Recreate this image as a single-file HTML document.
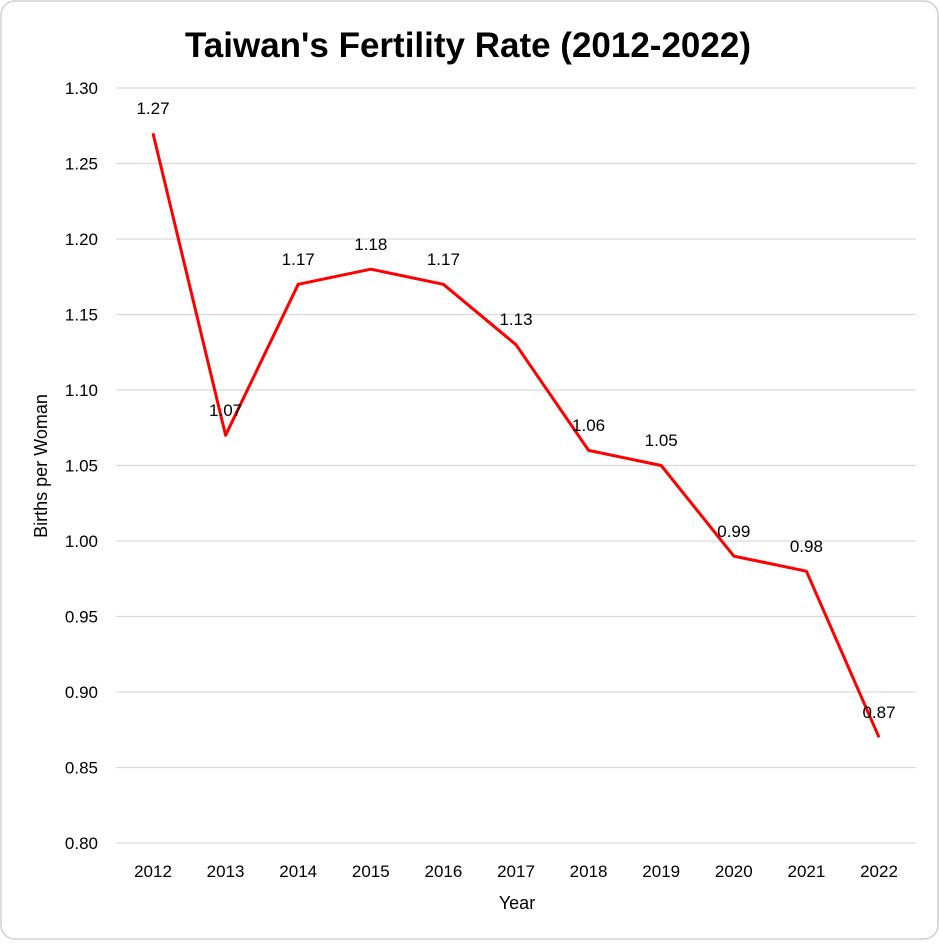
<!DOCTYPE html>
<html><head><meta charset="utf-8"><style>
body{margin:0;background:#fff;}
svg text{font-family:"Liberation Sans",sans-serif;}
</style></head><body>
<svg width="939" height="940" viewBox="0 0 939 940" xmlns="http://www.w3.org/2000/svg">
<rect x="1" y="1" width="937" height="938" rx="14" fill="#fff" stroke="#d0d0d0" stroke-width="1.5"/>
<text x="468" y="57" text-anchor="middle" font-size="35" font-weight="bold" fill="#000">Taiwan's Fertility Rate (2012-2022)</text>
<g stroke="#d9d9d9" stroke-width="1.3">
<line x1="116" x2="916" y1="88" y2="88"/><line x1="116" x2="916" y1="163.5" y2="163.5"/>
<line x1="116" x2="916" y1="239" y2="239"/><line x1="116" x2="916" y1="314.5" y2="314.5"/>
<line x1="116" x2="916" y1="390" y2="390"/><line x1="116" x2="916" y1="465.5" y2="465.5"/>
<line x1="116" x2="916" y1="541" y2="541"/><line x1="116" x2="916" y1="616.5" y2="616.5"/>
<line x1="116" x2="916" y1="692" y2="692"/><line x1="116" x2="916" y1="767.5" y2="767.5"/>
<line x1="116" x2="916" y1="843" y2="843"/>
</g>
<g font-size="17" text-anchor="end" fill="#000">
<text x="98" y="94">1.30</text><text x="98" y="169.5">1.25</text><text x="98" y="245">1.20</text>
<text x="98" y="320.5">1.15</text><text x="98" y="396">1.10</text><text x="98" y="471.5">1.05</text>
<text x="98" y="547">1.00</text><text x="98" y="622.5">0.95</text><text x="98" y="698">0.90</text>
<text x="98" y="773.5">0.85</text><text x="98" y="849">0.80</text>
</g>
<g font-size="17" text-anchor="middle" fill="#000">
<text x="153" y="877">2012</text><text x="225.6" y="877">2013</text><text x="298.2" y="877">2014</text>
<text x="370.8" y="877">2015</text><text x="443.4" y="877">2016</text><text x="516" y="877">2017</text>
<text x="588.6" y="877">2018</text><text x="661.2" y="877">2019</text><text x="733.8" y="877">2020</text>
<text x="806.4" y="877">2021</text><text x="879" y="877">2022</text>
</g>
<text x="517" y="909" text-anchor="middle" font-size="18">Year</text>
<text transform="translate(47,466) rotate(-90)" text-anchor="middle" font-size="18">Births per Woman</text>
<polyline fill="none" stroke="#ff0000" stroke-width="3" stroke-linejoin="round"
points="153,133.3 225.6,435.3 298.2,284.3 370.8,269.2 443.4,284.3 516,344.7 588.6,450.4 661.2,465.5 733.8,556.1 806.4,571.2 879,737.3"/>
<g font-size="17" text-anchor="middle" fill="#000">
<text x="153" y="114">1.27</text><text x="225.6" y="416">1.07</text><text x="298.2" y="265">1.17</text>
<text x="370.8" y="250">1.18</text><text x="443.4" y="265">1.17</text><text x="516" y="325">1.13</text>
<text x="588.6" y="431">1.06</text><text x="661.2" y="446">1.05</text><text x="733.8" y="537">0.99</text>
<text x="806.4" y="552">0.98</text><text x="879" y="718">0.87</text>
</g>
</svg>
</body></html>
